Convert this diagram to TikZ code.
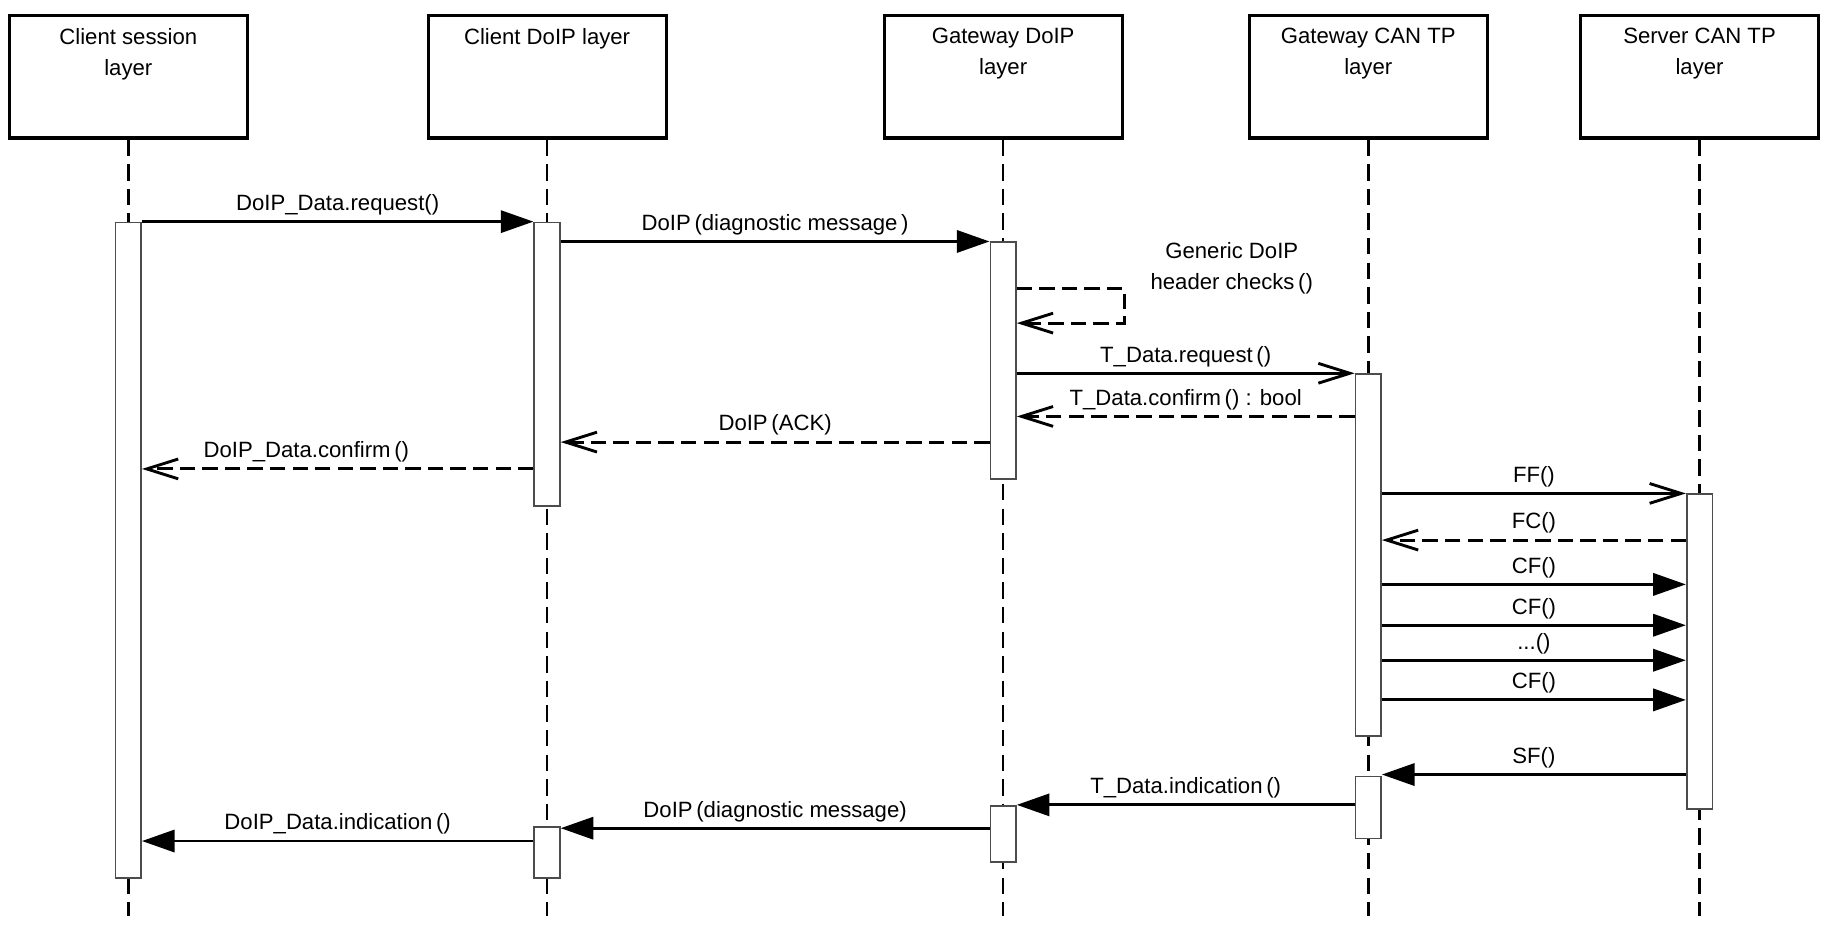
\documentclass[tikz,border=0pt]{standalone}
\usepackage{fontspec}
\setmainfont{Liberation Sans}
\usepackage{tikz}
\usetikzlibrary{arrows.meta}

\tikzset{
  head/.style={draw, line width=1.5pt, minimum width=4.08cm, minimum height=2.1cm, anchor=north, inner sep=0pt},
  hdtxt/.style={anchor=north, align=center, yshift=-0.12cm},
  life/.style={line width=1.3pt, dash pattern=on 8pt off 4pt},
  bar/.style={draw=gray!60!black, fill=white, line width=0.8pt, minimum width=0.44cm, minimum height=#1*0.2mm, anchor=north, inner sep=0pt},
  call/.style={line width=1.4pt, -{Triangle[length=0.56cm,width=0.38cm]}},
  ask/.style={line width=1.4pt, -{Straight Barb[length=0.54cm,width=0.34cm]}},
  reply/.style={ask, dash pattern=on 7.5pt off 3.5pt},
  msg/.style={above, inner sep=2.5pt}
}

\begin{document}
\begin{tikzpicture}[x=0.2mm, y=-0.2mm, font=\fontsize{10.8}{15}\selectfont]
\useasboundingbox (0,0) rectangle (1568,797);
% layers
\node[head, label={[hdtxt]north:{Client session\\layer}}] (csl) at (110,12) {};
\node[head, label={[hdtxt]north:{Client DoIP layer}}] (cdl) at (469,12) {};
\node[head, label={[hdtxt]north:{Gateway DoIP\\layer}}] (gdl) at (860,12) {};
\node[head, label={[hdtxt]north:{Gateway CAN TP\\layer}}] (gcl) at (1173,12) {};
\node[head, label={[hdtxt]north:{Server CAN TP\\layer}}] (scl) at (1457,12) {};
\foreach \h in {csl,cdl,gdl,gcl,scl}
  \draw[life] (\h.south) -- (\h.south |- 0,785);
% activations
\node[bar=562] (csa) at (110,190) {};
\node[bar=243] (cda1) at (469,190) {};
\node[bar=44] (cda2) at (469,708) {};
\node[bar=203] (gda1) at (860,207) {};
\node[bar=48] (gda2) at (860,690) {};
\node[bar=310] (gca1) at (1173,320) {};
\node[bar=53] (gca2) at (1173,665) {};
\node[bar=270] (sca) at (1457,423) {};
% request
\draw[call] (csa.east |- 0,190) -- node[msg]{DoIP\_Data.request()} (cda1.west |- 0,190);
\draw[call] (cda1.east |- 0,207) -- node[msg]{DoIP\,(diagnostic message\,)} (gda1.west |- 0,207);
\draw[reply] (gda1.east |- 0,247) -- ++(92,0) |- (gda1.east |- 0,277);
\node[align=center] (chk) at (1056,230) {Generic DoIP\\header checks\,()};
\draw[ask] (gda1.east |- 0,320) -- node[msg]{T\_Data.request\,()} (gca1.west |- 0,320);
\draw[reply] (gca1.west |- 0,357) -- node[msg]{T\_Data.confirm\,() : bool} (gda1.east |- 0,357);
\draw[reply] (gda1.west |- 0,379) -- node[msg]{DoIP\,(ACK)} (cda1.east |- 0,379);
\draw[reply] (cda1.west |- 0,402) -- node[msg, pos=0.58]{DoIP\_Data.confirm\,()} (csa.east |- 0,402);
% CAN TP segments
\draw[ask] (gca1.east |- 0,423) -- node[msg]{FF()} (sca.west |- 0,423);
\draw[reply] (sca.west |- 0,463) -- node[msg]{FC()} (gca1.east |- 0,463);
\foreach \y in {501,536,600}
  \draw[call] (gca1.east |- 0,\y) -- node[msg]{CF()} (sca.west |- 0,\y);
\draw[call] (gca1.east |- 0,566) -- node[msg]{...()} (sca.west |- 0,566);
% response
\draw[call] (sca.west |- 0,664) -- node[msg]{SF()} (gca2.east |- 0,664);
\draw[call] (gca2.west |- 0,690) -- node[msg]{T\_Data.indication\,()} (gda2.east |- 0,690);
\draw[call] (gda2.west |- 0,710) -- node[msg]{DoIP\,(diagnostic message)} (cda2.east |- 0,710);
\draw[call] (cda2.west |- 0,721) -- node[msg]{DoIP\_Data.indication\,()} (csa.east |- 0,721);
\end{tikzpicture}
\end{document}
